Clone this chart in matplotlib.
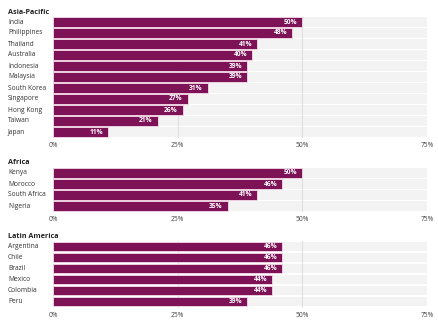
import matplotlib
matplotlib.use("Agg")
import matplotlib.pyplot as plt

plt.rcParams['font.family'] = ['Open Sans', 'DejaVu Sans']

asia_countries = ["India", "Philippines", "Thailand", "Australia", "Indonesia", "Malaysia",
                  "South Korea", "Singapore", "Hong Kong", "Taiwan", "Japan"]
asia_values = [50, 48, 41, 40, 39, 39, 31, 27, 26, 21, 11]

africa_countries = ["Kenya", "Morocco", "South Africa", "Nigeria"]
africa_values = [50, 46, 41, 35]

latam_countries = ["Argentina", "Chile", "Brazil", "Mexico", "Colombia", "Peru"]
latam_values = [46, 46, 46, 44, 44, 39]

panels = [("Asia-Pacific", asia_countries, asia_values),
          ("Africa", africa_countries, africa_values),
          ("Latin America", latam_countries, latam_values)]

xticks = [0, 25, 50, 75]
xticklabels = ["0%", "25%", "50%", "75%"]

W, H = 439, 323
fig = plt.figure(figsize=(W / 100, H / 100), dpi=100)

# pixel extents (top, bottom) of each panel
extents = [(16.5, 137.5), (167.5, 211.5), (240.5, 307.5)]
title_y = [12, 162, 236]
left_px, right_px = 53, 427

bar_color = "#7d1257"
bg_color = "#f3f3f3"

for (title, cats, vals), (top, bot), ty in zip(panels, extents, title_y):
    ax = fig.add_axes([left_px / W, 1 - bot / H, (right_px - left_px) / W, (bot - top) / H])
    n = len(cats)
    y = list(range(n))
    ax.barh(y, [75] * n, height=0.82, color=bg_color, zorder=0)
    for x in [25, 50]:
        ax.axvline(x, color="#e0e0e0", lw=0.8, zorder=1)
    ax.barh(y, vals, height=0.82, color=bar_color, edgecolor="#f4dbe8", linewidth=0.6, zorder=2)
    for yi, v in zip(y, vals):
        ax.text(v - 1.0, yi, f"{v}%", color="white", fontsize=4.8, fontweight="bold",
                ha="right", va="center", zorder=3)
    ax.set_xlim(0, 75)
    ax.set_ylim(n - 0.5, -0.5)
    ax.set_yticks([])
    ax.set_xticks(xticks)
    ax.set_xticklabels(xticklabels, fontsize=4.8, color="#444444")
    ax.tick_params(axis="x", length=0, pad=3)
    for s in ax.spines.values():
        s.set_visible(False)
    for yi, c in zip(y, cats):
        ax.text(-45 / (right_px - left_px) * 75, yi, c, fontsize=4.8, color="#333333",
                ha="left", va="center", transform=ax.transData, clip_on=False)
    fig.text(8 / W, 1 - ty / H, title, fontsize=5.2, fontweight="bold", color="#222222",
             ha="left", va="center")

fig.savefig("out.png", dpi=100)
